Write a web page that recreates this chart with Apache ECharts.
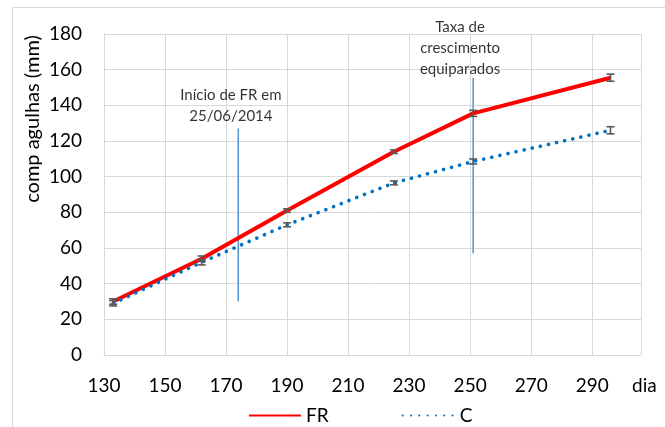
<!DOCTYPE html>
<html>
<head>
<meta charset="utf-8">
<script src="https://cdn.jsdelivr.net/npm/echarts@6/dist/echarts.min.js"></script>
<style>
html,body{margin:0;padding:0;background:#fff;}
#chart{width:665px;height:427px;}
</style>
</head>
<body>
<div id="chart"></div>
<script>
// ---- data ----
const days = [133, 162, 190, 225, 251, 296];
const frValues = [30, 54, 81, 114, 135.5, 155.5];
const cValues = [29, 52, 73, 96.5, 108.5, 126];
const frErrors = [1.5, 1.5, 1, 1, 1.7, 2];
const cErrors = [1.5, 1.5, 1.1, 1.1, 1.4, 2];
const seriesNames = ['FR', 'C'];
const xMin = 130, xMax = 306, xStep = 20;
const yMin = 0, yMax = 180, yStep = 20;
const xAxisName = 'dia';
const yAxisName = 'comp agulhas (mm)';
// annotations: vertical marker lines and their notes
const noteLineX = [174, 251];
const noteLineLow = [30, 57];
const noteLineHigh = [127, 155.5];
const noteTexts = ['Início de FR em\n25/06/2014', 'Taxa de\ncrescimento\nequiparados'];
const noteTextX = [171.6, 246.7];
const noteTextY = [139.7, 172.3];

const FONT = 'Lato, "Noto Sans", sans-serif';
const chart = echarts.init(document.getElementById('chart'), null, {renderer: 'canvas'});

function errorRender(color) {
  return function (params, api) {
    const x = api.value(0), y = api.value(1), e = api.value(2);
    const top = api.coord([x, y + e]);
    const bot = api.coord([x, y - e]);
    const hw = 4;
    const st = {stroke: color, lineWidth: 1.6};
    return {
      type: 'group',
      children: [
        {type: 'line', shape: {x1: top[0], y1: top[1], x2: bot[0], y2: bot[1]}, style: st},
        {type: 'line', shape: {x1: top[0] - hw, y1: top[1], x2: top[0] + hw, y2: top[1]}, style: st},
        {type: 'line', shape: {x1: bot[0] - hw, y1: bot[1], x2: bot[0] + hw, y2: bot[1]}, style: st}
      ]
    };
  };
}

const noteLineSeries = noteLineX.map((x, i) => ({
  type: 'line',
  data: [[x, noteLineLow[i]], [x, noteLineHigh[i]]],
  symbol: 'none',
  lineStyle: {color: '#5B9BD5', width: 1.6},
  silent: true,
  z: 1
}));

const noteTextSeries = {
  type: 'scatter',
  data: noteTextX.map((x, i) => ({value: [x, noteTextY[i]], label: {formatter: noteTexts[i]}})),
  symbolSize: 0,
  silent: true,
  label: {
    show: true, position: 'inside', fontFamily: FONT, fontSize: 15, lineHeight: 21,
    color: '#000', align: 'center', verticalAlign: 'middle'
  },
  z: 6
};

chart.setOption({
  animation: false,
  backgroundColor: '#fff',
  graphic: [
    {type: 'rect', shape: {x: 12.5, y: 7.5, width: 700, height: 500}, style: {fill: 'none', stroke: '#D9D9D9', lineWidth: 1}, silent: true, z: -1},
    {type: 'text', x: 33, y: 119, rotation: Math.PI / 2,
     style: {text: yAxisName, fontFamily: FONT, fontSize: 20, fill: '#000', align: 'center', verticalAlign: 'middle'}}
  ],
  grid: {left: 104, right: 24, top: 34, bottom: 72, containLabel: false},
  legend: {
    data: seriesNames,
    left: 243, top: 401,
    itemWidth: 52, itemHeight: 14, itemGap: 73,
    itemStyle: {opacity: 0},
    textStyle: {fontFamily: FONT, fontSize: 19, color: '#000'}
  },
  xAxis: {
    type: 'value', min: xMin, max: xMax, interval: xStep,
    name: xAxisName, nameLocation: 'end', nameGap: -9,
    nameTextStyle: {fontFamily: FONT, fontSize: 19, color: '#000', align: 'left', verticalAlign: 'top', padding: [21, 0, 0, 0]},
    axisLine: {show: true, lineStyle: {color: '#D9D9D9', width: 1}},
    axisTick: {show: false},
    axisLabel: {fontFamily: FONT, fontSize: 19, color: '#000', margin: 21, showMaxLabel: false, showMinLabel: true},
    splitLine: {show: true, lineStyle: {color: '#D9D9D9', width: 1}}
  },
  yAxis: {
    type: 'value', min: yMin, max: yMax, interval: yStep,
    axisLine: {show: true, lineStyle: {color: '#D9D9D9', width: 1}},
    axisTick: {show: false},
    axisLabel: {fontFamily: FONT, fontSize: 19, color: '#000', margin: 22},
    splitLine: {show: true, lineStyle: {color: '#D9D9D9', width: 1}}
  },
  series: [
    ...noteLineSeries,
    {
      name: seriesNames[0], type: 'line',
      data: days.map((d, i) => [d, frValues[i]]),
      symbol: 'none', smooth: false,
      lineStyle: {color: '#FF0000', width: 4},
      itemStyle: {color: '#FF0000'},
      z: 3
    },
    {
      name: seriesNames[1], type: 'line',
      data: days.map((d, i) => [d, cValues[i]]),
      symbol: 'none',
      lineStyle: {color: '#0070C0', width: 3.6, type: [0.1, 8.2], cap: 'round'},
      itemStyle: {color: '#0070C0'},
      z: 4
    },
    {
      type: 'custom', renderItem: errorRender('#595959'),
      data: days.map((d, i) => [d, frValues[i], frErrors[i]]), z: 5, silent: true
    },
    {
      type: 'custom', renderItem: errorRender('#595959'),
      data: days.map((d, i) => [d, cValues[i], cErrors[i]]), z: 5, silent: true
    },
    noteTextSeries
  ]
});
</script>
</body>
</html>
